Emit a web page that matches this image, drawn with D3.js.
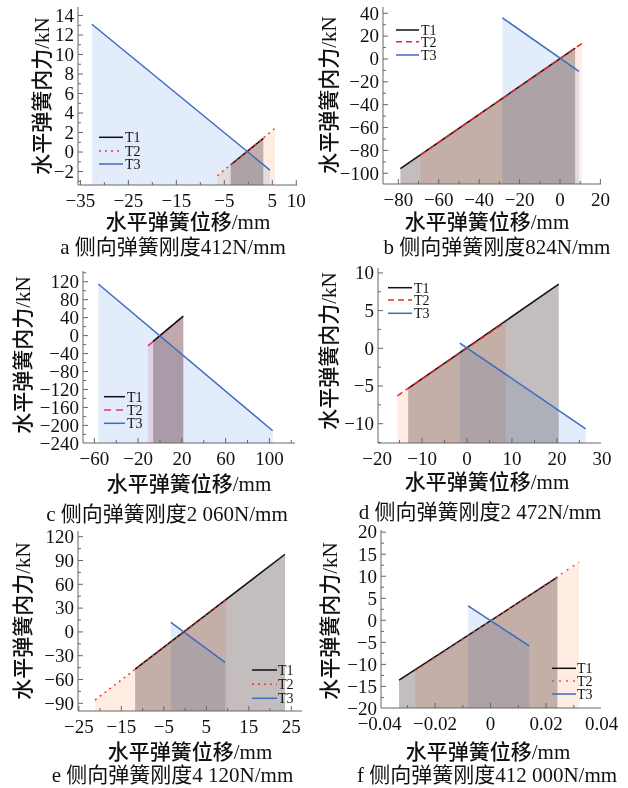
<!DOCTYPE html>
<html><head><meta charset="utf-8">
<script src="https://cdn.jsdelivr.net/npm/d3@7"></script>
<style>body{margin:0;background:#fff}svg{display:block}.fill{mix-blend-mode:multiply}</style>
</head><body><svg id="c" width="628" height="788"></svg>
<script>
// ---------- data ----------
const seriesNames = ["T1", "T2", "T3"];
const xTitle = "水平弹簧位移/mm";
const yTitle = "水平弹簧内力/kN";
const captions = ["a 侧向弹簧刚度412N/mm", "b 侧向弹簧刚度824N/mm", "c 侧向弹簧刚度2 060N/mm",
                  "d 侧向弹簧刚度2 472N/mm", "e 侧向弹簧刚度4 120N/mm", "f 侧向弹簧刚度412 000N/mm"];

// panel a
const aT1 = [[-3.67, -1.3], [3.13, 1.4]];
const aT2 = [[-6.46, -2.43], [5.56, 2.43]];
const aT3 = [[-32.6, 13.1], [4.52, -1.85]];
const aXDomain = [-35.5, 10.15], aYDomain = [-3.38, 14.87];
const aXTicks = [-35, -25, -15, -5, 5, 10], aYTicks = [-2, 0, 2, 4, 6, 8, 10, 12, 14];
// panel b
const bT1 = [[-79, -96], [7.5, 9.5]];
const bT2 = [[-69, -84], [10.8, 13.5]];
const bT3 = [[-28.5, 36], [9.4, -10.8]];
const bXDomain = [-87.6, 20.3], bYDomain = [-109.4, 45.5];
const bXTicks = [-80, -60, -40, -20, 0, 20], bYTicks = [-100, -80, -60, -40, -20, 0, 20, 40];
// panel c
const cT1 = [[-6.3, -13], [21.3, 43.5]];
const cT2 = [[-11, -23], [21.3, 43.5]];
const cT3 = [[-56.4, 115], [103, -212]];
const cXDomain = [-70.4, 123.4], cYDomain = [-239.2, 143.9];
const cXTicks = [-60, -20, 20, 60, 100], cYTicks = [-240, -200, -160, -120, -80, -40, 0, 40, 80, 120];
// panel d
const dT1 = [[-13.1, -5.3], [20.4, 8.5]];
const dT2 = [[-15.5, -6.3], [8.6, 3.5]];
const dT3 = [[-1.6, 0.7], [26.4, -10.7]];
const dXDomain = [-19.8, 29.8], dYDomain = [-12.56, 10.65];
const dXTicks = [-20, -10, 0, 10, 20, 30], dYTicks = [-10, -5, 0, 5, 10];
// panel e
const eT1 = [[-11.76, -46.8], [23.5, 97.9]];
const eT2 = [[-21.2, -85.9], [9.65, 40.2]];
const eT3 = [[-3.36, 12.1], [9.4, -38.3]];
const eXDomain = [-25.2, 27.5], eYDomain = [-99.7, 127.2];
const eXTicks = [-25, -15, -5, 5, 15, 25], eYTicks = [-90, -60, -30, 0, 30, 60, 90, 120];
// panel f
const fT1 = [[-0.033, -13.6], [0.0241, 9.8]];
const fT2 = [[-0.0272, -11.5], [0.0319, 13.2]];
const fT3 = [[-0.0081, 3.3], [0.0139, -5.8]];
const fXDomain = [-0.0395, 0.0398], fYDomain = [-19.9, 20.5];
const fXTicks = [-0.04, -0.02, 0, 0.02, 0.04], fYTicks = [-20, -15, -10, -5, 0, 5, 10, 15, 20];

// ---------- layout / style ----------
const panels = [
  {series:[aT1,aT2,aT3], xd:aXDomain, yd:aYDomain, xt:aXTicks, yt:aYTicks, xm:5, ym:1, cap:captions[0],
   box:[78,297,7,185], yT:[42,96], xT:[188,221.7], capP:[173,246.7],
   leg:{x0:99,x1:123,tx:125,rows:[137.3,151,164]}, t2:{c:"#f03838",d:"2,4",f:"#ffede3"}},
  {series:[bT1,bT2,bT3], xd:bXDomain, yd:bYDomain, xt:bXTicks, yt:bYTicks, xm:10, ym:10, cap:captions[1],
   box:[383,601,7,184], yT:[329,95], xT:[487,221.7], capP:[497,246.7],
   leg:{x0:396,x1:419,tx:421,rows:[30,41.7,55]}, t2:{c:"#e82828",d:"6,4",f:"#ffede3"}},
  {series:[cT1,cT2,cT3], xd:cXDomain, yd:cYDomain, xt:cXTicks, yt:cYTicks, xm:20, ym:20, cap:captions[2],
   box:[83,295,271,443], yT:[23,355], xT:[189,483.3], capP:[167,513.3], t1Top:true,
   leg:{x0:104,x1:125,tx:127,rows:[396.7,410,423.3]}, t2:{c:"#e0308a",d:"7,5",f:"#fbe3ea"}},
  {series:[dT1,dT2,dT3], xd:dXDomain, yd:dYDomain, xt:dXTicks, yt:dYTicks, xm:5, ym:2.5, cap:captions[3],
   box:[378,601,268,443], yT:[329,351], xT:[487,481.7], capP:[480,511.7],
   leg:{x0:388,x1:412,tx:414,rows:[287.7,300,313.3]}, t2:{c:"#e82828",d:"6,4",f:"#ffede3"}},
  {series:[eT1,eT2,eT3], xd:eXDomain, yd:eYDomain, xt:eXTicks, yt:eYTicks, xm:5, ym:15, cap:captions[4],
   box:[78,302,531,711], yT:[23,621], xT:[190,751.7], capP:[172.5,775],
   leg:{x0:252,x1:277,tx:278,rows:[670,684.3,698.3]}, t2:{c:"#f03838",d:"2,4",f:"#ffede3"}},
  {series:[fT1,fT2,fT3], xd:fXDomain, yd:fYDomain, xt:fXTicks, yt:fYTicks, xm:0.01, ym:2.5, cap:captions[5],
   box:[381,601,530,708], yT:[330,621], xT:[488,751.7], capP:[487,775],
   leg:{x0:552,x1:576,tx:577,rows:[668.3,681,694]}, t2:{c:"#f05050",d:"2,5",f:"#ffede3"}}
];

const latin = "'Liberation Serif','Times New Roman'";
const mixed = "'Liberation Serif','Noto Sans CJK SC'";
const svg = d3.select("#c");
svg.append("rect").attr("width", 628).attr("height", 788).attr("fill", "#fff");
const fmt = v => { if (Math.abs(v) < 1e-12) return "0"; const s = String(+v.toFixed(4)); return s.replace("-", "\u2212"); };

panels.forEach((p, pi) => {
  const [X0, X1, Y0, Y1] = p.box;
  const x = d3.scaleLinear().domain(p.xd).range([X0, X1]);
  const y = d3.scaleLinear().domain(p.yd).range([Y1, Y0]);
  const g = svg.append("g");
  const clipId = "clip" + pi;
  svg.append("clipPath").attr("id", clipId).append("rect")
     .attr("x", X0).attr("y", Y0).attr("width", X1 - X0).attr("height", Y1 - Y0);

  const lineColors = ["#111", p.t2.c, "#3d6cc0"];
  const fillColors = ["#c3bdbd", p.t2.f, "#e3ecfa"];
  const area = d3.area().x(d => x(d[0])).y0(y(p.yd[0])).y1(d => y(d[1]));
  const line = d3.line().x(d => x(d[0])).y(d => y(d[1]));
  const plot = g.append("g").attr("clip-path", `url(#${clipId})`);
  p.series.forEach((s, i) => {
    plot.append("path").attr("class", "fill").attr("d", area(s)).attr("fill", fillColors[i]);
  });
  const order = p.t1Top ? [1, 0, 2] : [0, 1, 2];
  order.forEach(i => {
    plot.append("path").attr("d", line(p.series[i])).attr("fill", "none")
      .attr("stroke", lineColors[i]).attr("stroke-width", 1.5)
      .attr("stroke-dasharray", i === 1 ? p.t2.d : null);
  });

  // axes
  const ax = g.append("g").attr("stroke", "#666").attr("stroke-width", 1);
  ax.append("line").attr("x1", X0).attr("x2", X1).attr("y1", Y1).attr("y2", Y1);
  ax.append("line").attr("x1", X0).attr("x2", X0).attr("y1", Y0).attr("y2", Y1);
  const isMajor = (v, arr) => arr.some(t => Math.abs(t - v) < 1e-9);
  const xs = d3.range(Math.ceil(p.xd[0] / p.xm - 1e-9), Math.floor(p.xd[1] / p.xm + 1e-9) + 1).map(k => +(k * p.xm).toFixed(6));
  xs.forEach(v => {
    const L = isMajor(v, p.xt) ? 5 : 3;
    ax.append("line").attr("x1", x(v)).attr("x2", x(v)).attr("y1", Y1).attr("y2", Y1 - L);
  });
  const ys = d3.range(Math.ceil(p.yd[0] / p.ym - 1e-9), Math.floor(p.yd[1] / p.ym + 1e-9) + 1).map(k => +(k * p.ym).toFixed(6));
  ys.forEach(v => {
    const L = isMajor(v, p.yt) ? 5 : 3;
    ax.append("line").attr("x1", X0).attr("x2", X0 + L).attr("y1", y(v)).attr("y2", y(v));
  });
  g.selectAll(null).data(p.xt).enter().append("text")
    .attr("x", d => x(d)).attr("y", Y1 + 22).attr("text-anchor", "middle")
    .attr("font-family", latin).attr("font-size", 19).attr("fill", "#111").text(fmt);
  g.selectAll(null).data(p.yt).enter().append("text")
    .attr("x", X0 - 4).attr("y", d => y(d)).attr("dy", "0.33em").attr("text-anchor", "end")
    .attr("font-family", latin).attr("font-size", 19).attr("fill", "#111").text(fmt);

  // titles
  g.append("text").attr("transform", `translate(${p.yT[0]},${p.yT[1]}) rotate(-90)`)
    .attr("text-anchor", "middle").attr("dy", "0.35em").attr("font-family", mixed)
    .attr("font-size", 21).attr("font-weight", 500).attr("fill", "#111").text(yTitle);
  g.append("text").attr("x", p.xT[0]).attr("y", p.xT[1]).attr("dy", "0.35em")
    .attr("text-anchor", "middle").attr("font-family", mixed)
    .attr("font-size", 21).attr("font-weight", 500).attr("fill", "#111").text(xTitle);
  g.append("text").attr("x", p.capP[0]).attr("y", p.capP[1]).attr("dy", "0.35em")
    .attr("text-anchor", "middle").attr("font-family", mixed)
    .attr("font-size", 21).attr("fill", "#111").text(p.cap);

  // legend
  seriesNames.forEach((nm, i) => {
    const ry = p.leg.rows[i];
    g.append("line").attr("x1", p.leg.x0).attr("x2", p.leg.x1).attr("y1", ry).attr("y2", ry)
      .attr("stroke", lineColors[i]).attr("stroke-width", 1.5)
      .attr("stroke-dasharray", i === 1 ? p.t2.d : null);
    g.append("text").attr("x", p.leg.tx).attr("y", ry).attr("dy", "0.35em")
      .attr("font-family", latin).attr("font-size", 14).attr("fill", "#111").text(nm);
  });
});
</script></body></html>
